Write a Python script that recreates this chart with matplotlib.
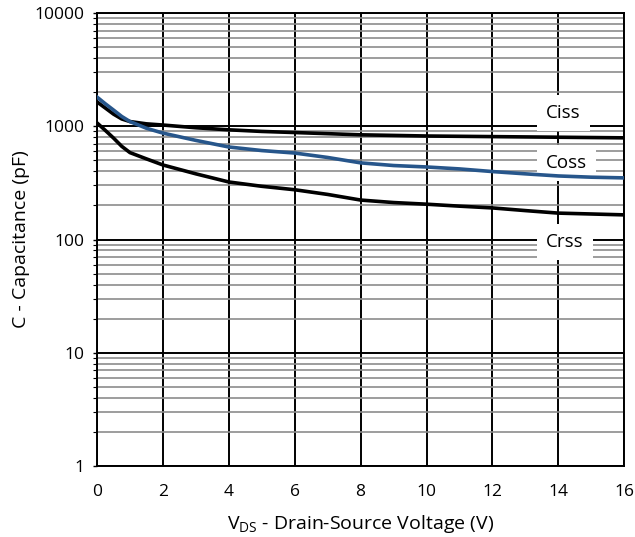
import numpy as np
import matplotlib
matplotlib.use("Agg")
import matplotlib.pyplot as plt
from matplotlib.ticker import LogLocator, FixedLocator, NullFormatter

plt.rcParams['font.family'] = ['Open Sans', 'DejaVu Sans']

# (V, pF)
vds = [0, 0.25, 0.5, 0.75, 1, 1.5, 2, 3, 4, 5, 6, 7, 8, 9, 10, 11, 12, 13, 14, 15, 16]
ciss = [1640, 1450, 1280, 1160, 1100, 1050, 1025, 970, 930, 900, 880, 860, 840, 830, 820, 815, 810, 805, 800, 795, 790]
coss = [1810, 1580, 1390, 1220, 1100, 960, 870, 750, 656, 610, 580, 530, 475, 450, 437, 420, 398, 380, 364, 355, 350]
crss = [1070, 920, 787, 665, 585, 515, 455, 380, 322, 295, 275, 250, 223, 212, 205, 197, 190, 180, 171, 168, 165]

labels = ['Ciss', 'Coss', 'Crss']
label_x = [14.15, 14.25, 14.2]
label_y = [1310, 474, 95]

fig = plt.figure(figsize=(6.35, 5.37), dpi=100)
ax = fig.add_axes([0.1528, 0.1322, 0.983 - 0.1528, 0.9758 - 0.1322])

ax.set_yscale('log')
ax.set_xlim(0, 16)
ax.set_ylim(1, 10000)

ax.xaxis.set_major_locator(FixedLocator(range(0, 17, 2)))
ax.yaxis.set_major_locator(LogLocator(base=10, numticks=10))
ax.yaxis.set_minor_locator(LogLocator(base=10, subs=np.arange(2, 10), numticks=10))
ax.yaxis.set_minor_formatter(NullFormatter())
ax.set_yticks([1, 10, 100, 1000, 10000])
ax.set_yticklabels(['1', '10', '100', '1000', '10000'])

ax.grid(True, which='minor', axis='y', color='#8c8c8c', linewidth=1.2, zorder=1)
ax.grid(True, which='major', axis='y', color='black', linewidth=1.4, zorder=1)
ax.grid(True, which='major', axis='x', color='black', linewidth=1.4, zorder=1)
ax.set_axisbelow(True)

ax.plot(vds, ciss, color='black', linewidth=2.6, zorder=3)
ax.plot(vds, coss, color='#27568b', linewidth=2.6, zorder=4)
ax.plot(vds, crss, color='black', linewidth=2.6, zorder=3)

for t, x, y in zip(labels, label_x, label_y):
    ax.text(x, y, t, fontsize=13.5, ha='center', va='center', zorder=2,
            bbox=dict(facecolor='white', edgecolor='none', boxstyle='square,pad=0.5'))

for s in ax.spines.values():
    s.set_linewidth(1.4)

ax.tick_params(axis='both', which='major', labelsize=12.5, length=3, width=1, pad=6)
ax.tick_params(axis='x', length=0, pad=13)
ax.tick_params(axis='y', which='minor', length=3, width=0.8)

ax.set_xlabel(r'V$_{\mathregular{DS}}$ - Drain-Source Voltage (V)', fontsize=14, labelpad=9)
ax.set_ylabel('C - Capacitance (pF)', fontsize=14, labelpad=3)

fig.savefig('out.png', dpi=100)
